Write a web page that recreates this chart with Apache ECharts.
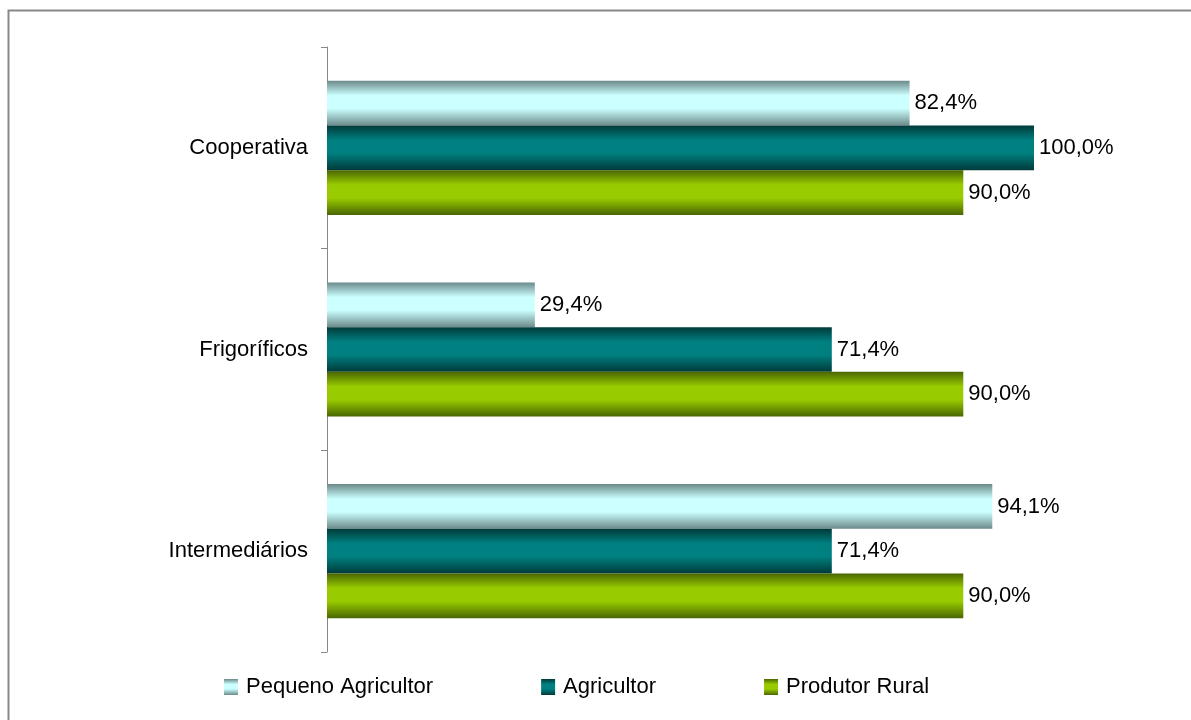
<!DOCTYPE html>
<html>
<head>
<meta charset="utf-8">
<script src="https://cdn.jsdelivr.net/npm/echarts@6/dist/echarts.min.js"></script>
<style>html,body{margin:0;padding:0;background:#fff}#c{width:1191px;height:720px}</style>
</head>
<body>
<div id="c"></div>
<script>
const categories = ['Cooperativa', 'Frigoríficos', 'Intermediários'];
const seriesNames = ['Pequeno Agricultor', 'Agricultor', 'Produtor Rural'];
const pequenoAgricultor = [82.4, 29.4, 94.1];
const agricultor = [100.0, 71.4, 71.4];
const produtorRural = [90.0, 90.0, 90.0];

const grads = [
  ['#6c8a8a', '#ccffff'],
  ['#003a3a', '#008080'],
  ['#4a6600', '#99cc00']
];
function grad(edge, mid) {
  return new echarts.graphic.LinearGradient(0, 0, 0, 1, [
    {offset: 0, color: edge},
    {offset: 0.33, color: mid},
    {offset: 0.62, color: mid},
    {offset: 1, color: edge}
  ]);
}
const font = 'Liberation Sans, Arial, sans-serif';
const values = [pequenoAgricultor, agricultor, produtorRural];
const chart = echarts.init(document.getElementById('c'));
chart.setOption({
  animation: false,
  backgroundColor: '#fff',
  graphic: [{
    type: 'rect', left: 6, top: 8,
    shape: {width: 1300, height: 800},
    style: {fill: 'none', stroke: '#888', lineWidth: 2}
  }],
  grid: {left: 327, right: 157, top: 47, bottom: 68, containLabel: false},
  xAxis: {
    type: 'value', min: 0, max: 100, show: false
  },
  yAxis: {
    type: 'category', data: categories, inverse: true,
    axisLine: {lineStyle: {color: '#888', width: 1}},
    axisTick: {show: true, length: 6, lineStyle: {color: '#888'}},
    axisLabel: {color: '#000', fontFamily: font, fontSize: 22, margin: 19}
  },
  legend: {
    bottom: 17, left: 219, itemGap: 108, itemWidth: 14, itemHeight: 16, icon: 'rect',
    textStyle: {color: '#000', fontFamily: font, fontSize: 22, padding: [0, 0, 0, 3]},
    data: seriesNames
  },
  series: seriesNames.map((name, i) => ({
    name: name, type: 'bar', data: values[i],
    barGap: '0%', barCategoryGap: '33.5%',
    itemStyle: {color: grad(grads[i][0], grads[i][1])},
    label: {
      show: true, position: 'right', distance: 5, color: '#000',
      fontFamily: font, fontSize: 22,
      formatter: p => p.value.toFixed(1).replace('.', ',') + '%'
    }
  }))
});
</script>
</body>
</html>
